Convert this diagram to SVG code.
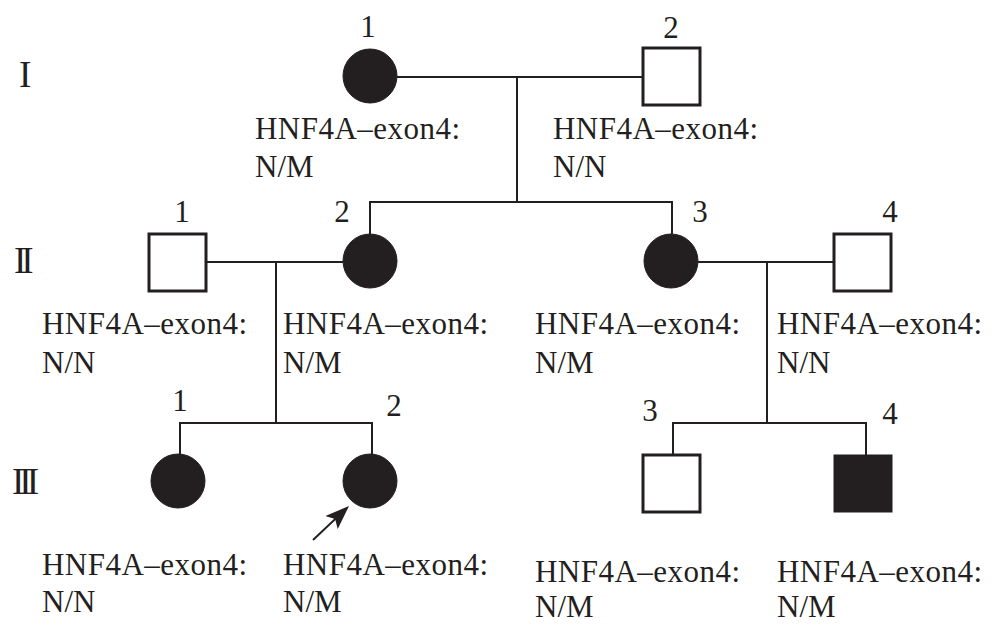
<svg xmlns="http://www.w3.org/2000/svg" width="994" height="625" viewBox="0 0 994 625">
<style>
  text { font-family: "Liberation Serif", "Times New Roman", serif; fill: #231f20; }
  .num { font-size: 31px; text-anchor: middle; }
  .lab { font-size: 31px; }
  .gen { font-size: 37px; letter-spacing: -5px; }
  .ln { stroke: #231f20; stroke-width: 2; fill: none; }
  .male { fill: #ffffff; stroke: #231f20; stroke-width: 3; }
  .aff { fill: #231f20; stroke: #231f20; stroke-width: 1; }
</style>
<defs>
  <marker id="arrow" markerUnits="userSpaceOnUse" viewBox="0 0 24 18" refX="21" refY="9" markerWidth="24" markerHeight="18" orient="auto">
    <path d="M0,0 L24,9 L0,18 L5,9 Z" fill="#231f20"/>
  </marker>
</defs>
<rect width="994" height="625" fill="#ffffff"/>

<g id="generations">
  <text class="gen" x="19" y="87">I</text>
  <text class="gen" x="14" y="273">II</text>
  <text class="gen" x="12" y="494">III</text>
</g>

<g id="connectors">
  <line class="ln" x1="397" y1="77" x2="643" y2="77"/>
  <line class="ln" x1="517" y1="77" x2="517" y2="202"/>
  <polyline class="ln" points="370,234 370,202 672,202 672,234"/>
  <line class="ln" x1="207" y1="262" x2="343" y2="262"/>
  <line class="ln" x1="276" y1="262" x2="276" y2="423"/>
  <polyline class="ln" points="180,455 180,423 372,423 372,455"/>
  <line class="ln" x1="698" y1="262" x2="834" y2="262"/>
  <line class="ln" x1="767" y1="262" x2="767" y2="423"/>
  <polyline class="ln" points="673,455 673,423 866,423 866,455"/>
  <line class="ln" x1="313" y1="540" x2="346.8" y2="508.1" marker-end="url(#arrow)"/>
</g>

<g id="I-1">
  <circle class="aff" cx="370" cy="76" r="27"/>
  <text class="num" x="368" y="37">1</text>
  <text class="lab" x="255" y="139" textLength="205">HNF4A–exon4:</text>
  <text class="lab" x="255" y="177">N/M</text>
</g>
<g id="I-2">
  <rect class="male" x="643" y="48" width="57" height="57"/>
  <text class="num" x="671" y="38">2</text>
  <text class="lab" x="553" y="139" textLength="205">HNF4A–exon4:</text>
  <text class="lab" x="553" y="177">N/N</text>
</g>

<g id="II-1">
  <rect class="male" x="149" y="234" width="57" height="57"/>
  <text class="num" x="182" y="222">1</text>
  <text class="lab" x="42" y="334" textLength="205">HNF4A–exon4:</text>
  <text class="lab" x="42" y="373">N/N</text>
</g>
<g id="II-2">
  <circle class="aff" cx="370" cy="261" r="27"/>
  <text class="num" x="342" y="222">2</text>
  <text class="lab" x="283" y="334" textLength="205">HNF4A–exon4:</text>
  <text class="lab" x="283" y="373">N/M</text>
</g>
<g id="II-3">
  <circle class="aff" cx="671" cy="261" r="27"/>
  <text class="num" x="700" y="222">3</text>
  <text class="lab" x="535" y="334" textLength="205">HNF4A–exon4:</text>
  <text class="lab" x="535" y="373">N/M</text>
</g>
<g id="II-4">
  <rect class="male" x="834" y="234" width="57" height="57"/>
  <text class="num" x="890" y="222">4</text>
  <text class="lab" x="777" y="334" textLength="205">HNF4A–exon4:</text>
  <text class="lab" x="777" y="373">N/N</text>
</g>

<g id="III-1">
  <circle class="aff" cx="178" cy="481" r="27"/>
  <text class="num" x="180" y="411">1</text>
  <text class="lab" x="42" y="575" textLength="205">HNF4A–exon4:</text>
  <text class="lab" x="42" y="612">N/N</text>
</g>
<g id="III-2">
  <circle class="aff" cx="370" cy="481" r="27"/>
  <text class="num" x="394" y="416">2</text>
  <text class="lab" x="283" y="575" textLength="205">HNF4A–exon4:</text>
  <text class="lab" x="283" y="612">N/M</text>
</g>
<g id="III-3">
  <rect class="male" x="643" y="455" width="57" height="57"/>
  <text class="num" x="650" y="421">3</text>
  <text class="lab" x="535" y="582" textLength="205">HNF4A–exon4:</text>
  <text class="lab" x="535" y="617">N/M</text>
</g>
<g id="III-4">
  <rect class="aff" x="834" y="455" width="58" height="57"/>
  <text class="num" x="890" y="424">4</text>
  <text class="lab" x="777" y="582" textLength="205">HNF4A–exon4:</text>
  <text class="lab" x="777" y="617">N/M</text>
</g>
</svg>
